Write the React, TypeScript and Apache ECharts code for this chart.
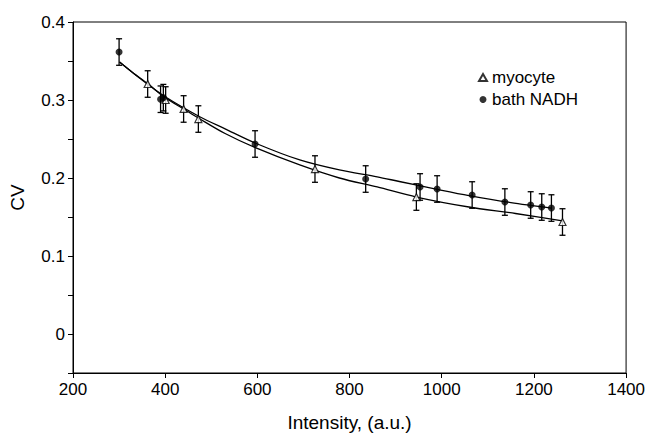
import React, { useEffect, useRef } from "react";
import * as echarts from "echarts";

// Measured points (Intensity, CV) and error half-widths
const myoX = [362, 401, 440, 472, 725, 945, 1262];
const myoY = [0.3205, 0.3, 0.2885, 0.2756, 0.2115, 0.1756, 0.1436];
const myoErr = [0.017, 0.017, 0.017, 0.017, 0.017, 0.017, 0.017];

const nadhX = [300, 390, 396, 595, 835, 953, 990, 1066, 1137, 1193, 1217, 1238];
const nadhY = [0.3615, 0.301, 0.303, 0.2436, 0.1987, 0.1885, 0.1859, 0.1782, 0.1692, 0.1654, 0.1628, 0.1615];
const nadhErr = [0.017, 0.017, 0.017, 0.017, 0.017, 0.017, 0.017, 0.017, 0.017, 0.017, 0.017, 0.017];

// Fitted curves
const myoFitX = [301, 330, 362, 401, 440, 472, 530, 597, 692, 778, 860, 945, 1059, 1160, 1262];
const myoFitY = [0.3487, 0.335, 0.321, 0.3025, 0.2885, 0.2769, 0.257, 0.2385, 0.2167, 0.2, 0.1885, 0.1756, 0.1628, 0.1545, 0.1449];
const nadhFitX = [301, 347, 401, 476, 530, 595, 692, 778, 860, 908, 990, 1059, 1150, 1238];
const nadhFitY = [0.3487, 0.3269, 0.3038, 0.2782, 0.263, 0.2449, 0.2231, 0.2103, 0.2015, 0.1955, 0.1855, 0.1775, 0.1685, 0.1615];

const FONT = "Liberation Sans, Arial, sans-serif";

const zip2 = (a: number[], b: number[]) => a.map((v, i) => [v, b[i]]);
const zip3 = (a: number[], b: number[], c: number[]) => a.map((v, i) => [v, b[i], c[i]]);

const errRender = (params: any, api: any) => {
  const x = api.value(0);
  const y = api.value(1);
  const e = api.value(2);
  const top = api.coord([x, y + e]);
  const bot = api.coord([x, y - e]);
  const hw = 3;
  const st = { stroke: "#000", lineWidth: 1.3 };
  return {
    type: "group",
    children: [
      { type: "line", shape: { x1: top[0], y1: top[1], x2: bot[0], y2: bot[1] }, style: st },
      { type: "line", shape: { x1: top[0] - hw, y1: top[1], x2: top[0] + hw, y2: top[1] }, style: st },
      { type: "line", shape: { x1: bot[0] - hw, y1: bot[1], x2: bot[0] + hw, y2: bot[1] }, style: st },
    ],
  };
};

export default function App() {
  const ref = useRef<HTMLDivElement>(null);
  useEffect(() => {
    if (!ref.current) return;
    const chart = echarts.init(ref.current, null, { renderer: "svg" });
    chart.setOption({
      animation: false,
      backgroundColor: "#fff",
      textStyle: { fontFamily: FONT },
      grid: {
        left: 72,
        right: 20,
        top: 22,
        bottom: 68,
        show: true,
        borderColor: "#000",
        borderWidth: 1,
        backgroundColor: "transparent",
      },
      legend: {
        orient: "vertical",
        left: 478,
        top: 69,
        padding: 0,
        itemWidth: 8,
        itemHeight: 7,
        itemGap: 5,
        textStyle: { fontFamily: FONT, fontSize: 17, color: "#000" },
        data: [
          { name: "myocyte", icon: "triangle" },
          { name: "bath NADH", icon: "circle" },
        ],
      },
      xAxis: {
        type: "value",
        min: 200,
        max: 1400,
        interval: 200,
        name: "Intensity, (a.u.)",
        nameLocation: "middle",
        nameGap: 40,
        nameTextStyle: { fontFamily: FONT, fontSize: 19, color: "#000" },
        axisLine: { show: true, onZero: false, lineStyle: { color: "#000", width: 1 } },
        axisTick: { show: true, inside: false, length: 5, lineStyle: { color: "#000" } },
        axisLabel: {
          fontFamily: FONT,
          fontSize: 17,
          color: "#000",
          margin: 8,
          formatter: (v: number) => String(Math.round(v)),
        },
        splitLine: { show: false },
      },
      yAxis: {
        type: "value",
        min: -0.05,
        max: 0.4,
        interval: 0.05,
        name: "CV",
        nameLocation: "middle",
        nameGap: 46,
        nameTextStyle: { fontFamily: FONT, fontSize: 19, color: "#000" },
        axisLine: { show: true, onZero: false, lineStyle: { color: "#000", width: 1 } },
        axisTick: { show: true, inside: false, length: 5, lineStyle: { color: "#000" } },
        axisLabel: {
          fontFamily: FONT,
          fontSize: 17,
          color: "#000",
          margin: 8,
          formatter: (v: number) => {
            const k = Math.round(v * 100);
            if (k < 0 || k % 10 !== 0) return "";
            return k === 0 ? "0" : String(k / 100);
          },
        },
        splitLine: { show: false },
      },
      series: [
        {
          type: "line",
          name: "myoFit",
          data: zip2(myoFitX, myoFitY),
          smooth: 0.3,
          symbol: "none",
          lineStyle: { color: "#000", width: 1.3 },
          z: 2,
        },
        {
          type: "line",
          name: "nadhFit",
          data: zip2(nadhFitX, nadhFitY),
          smooth: 0.3,
          symbol: "none",
          lineStyle: { color: "#000", width: 1.3 },
          z: 2,
        },
        {
          type: "custom",
          name: "myoErr",
          renderItem: errRender,
          encode: { x: 0, y: 1 },
          data: zip3(myoX, myoY, myoErr),
          z: 3,
        },
        {
          type: "custom",
          name: "nadhErr",
          renderItem: errRender,
          encode: { x: 0, y: 1 },
          data: zip3(nadhX, nadhY, nadhErr),
          z: 3,
        },
        {
          type: "scatter",
          name: "myocyte",
          symbol: "triangle",
          symbolSize: 7,
          itemStyle: { color: "#fff", borderColor: "#000", borderWidth: 1.2 },
          data: zip2(myoX, myoY),
          z: 5,
        },
        {
          type: "scatter",
          name: "bath NADH",
          symbol: "circle",
          symbolSize: 7,
          itemStyle: { color: "#000" },
          data: zip2(nadhX, nadhY),
          z: 6,
        },
      ],
    });
    return () => chart.dispose();
  }, []);
  return (
    <div
      ref={ref}
      style={{ position: "fixed", left: 0, top: 0, width: 648, height: 441 }}
    />
  );
}
